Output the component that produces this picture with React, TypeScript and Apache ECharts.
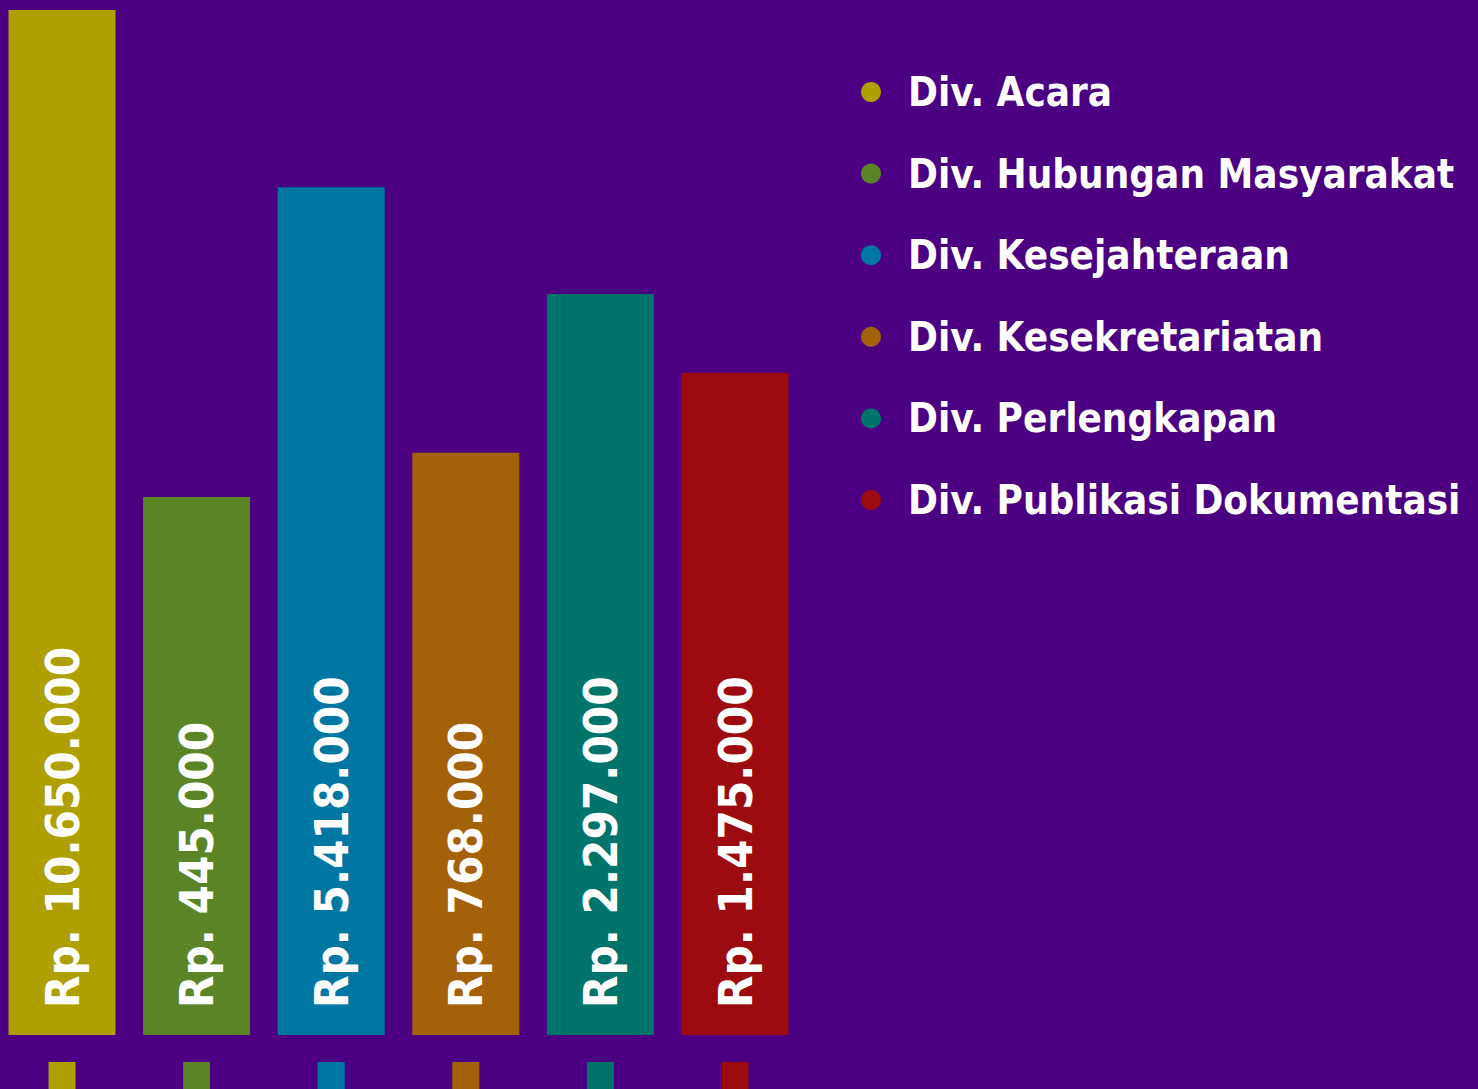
import React, { useEffect, useRef } from "react";
import * as echarts from "echarts";

const categories = [
  "Div. Acara",
  "Div. Hubungan Masyarakat",
  "Div. Kesejahteraan",
  "Div. Kesekretariatan",
  "Div. Perlengkapan",
  "Div. Publikasi Dokumentasi",
];
// bar heights as drawn (relative units)
const barHeights = [100, 52.5, 82.7, 56.8, 72.3, 64.6];
const amountLabels = [
  "Rp. 10.650.000",
  "Rp. 445.000",
  "Rp. 5.418.000",
  "Rp. 768.000",
  "Rp. 2.297.000",
  "Rp. 1.475.000",
];
const colors = ["#ADA000", "#5B8427", "#0077A2", "#A3620A", "#00736A", "#9B0B10"];

const FONT = "'DejaVu Sans Condensed', 'Liberation Sans Narrow', 'Noto Sans', sans-serif";

export default function App() {
  const ref = useRef<HTMLDivElement>(null);
  useEffect(() => {
    if (!ref.current) return;
    const chart = echarts.init(ref.current, null, { renderer: "svg" });
    const rich: Record<string, any> = {};
    colors.forEach((c, i) => {
      rich["c" + i] = { width: 27, height: 30, backgroundColor: c };
    });
    const series = categories.map((name, i) => ({
      type: "bar",
      name,
      stack: "all",
      barWidth: 107,
      itemStyle: { color: colors[i] },
      data: barHeights.map((v, j) => (j === i ? v : "-")),
      label: {
        show: true,
        position: "insideBottom",
        distance: 27,
        rotate: 90,
        align: "left",
        verticalAlign: "middle",
        color: "#FFFFFF",
        fontFamily: FONT,
        fontWeight: "bold",
        fontSize: 47,
        formatter: () => amountLabels[i],
      },
    }));
    chart.setOption({
      animation: false,
      backgroundColor: "#4B0082",
      color: colors,
      grid: {
        left: -5.3,
        width: 807.6,
        top: 10,
        bottom: 54,
        containLabel: false,
        outerBoundsMode: "none",
      },
      legend: {
        orient: "vertical",
        left: 856,
        top: 67,
        icon: "circle",
        itemWidth: 20,
        itemHeight: 21,
        itemGap: 41.6,
        data: categories,
        textStyle: {
          color: "#FFFFFF",
          fontFamily: FONT,
          fontWeight: "bold",
          fontSize: 40,
          lineHeight: 40,
          padding: [0, 0, 0, 22],
        },
      },
      xAxis: {
        type: "category",
        data: categories,
        axisLine: { show: false },
        axisTick: { show: false },
        axisLabel: {
          interval: 0,
          margin: 27,
          formatter: (_v: string, i: number) => `{c${i}|}`,
          rich,
        },
      },
      yAxis: {
        type: "value",
        min: 0,
        max: 100,
        show: false,
        splitLine: { show: false },
      },
      series,
    });
    return () => chart.dispose();
  }, []);
  return (
    <div
      ref={ref}
      style={{ position: "absolute", left: 0, top: 0, width: 1478, height: 1089 }}
    />
  );
}
